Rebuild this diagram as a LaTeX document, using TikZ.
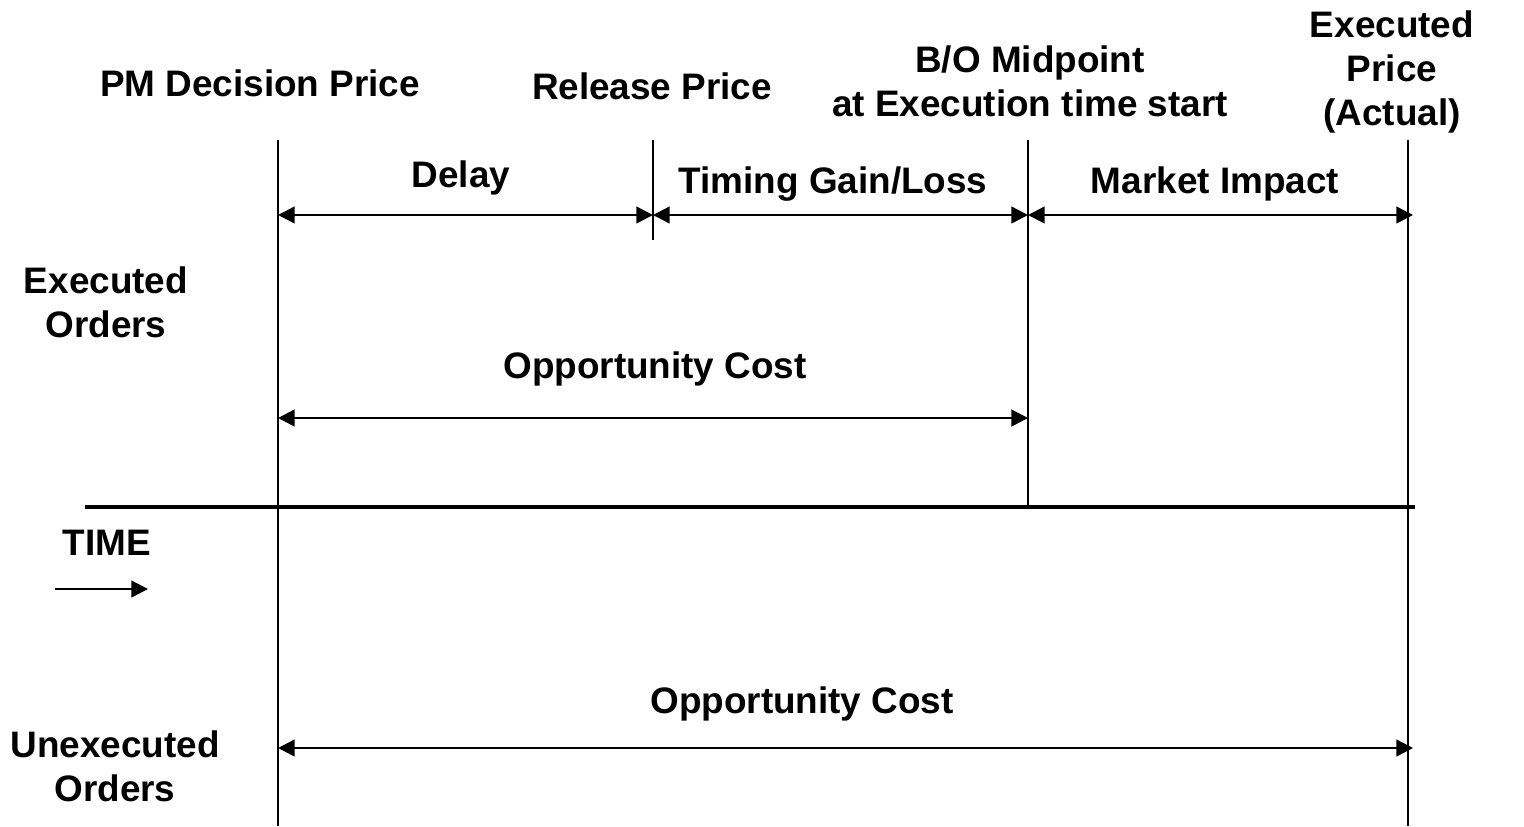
\documentclass[tikz,border=0pt]{standalone}
\usepackage{fontspec}
\setmainfont{Liberation Sans}
\usetikzlibrary{arrows.meta}
\tikzstyle{label}=[font=\bfseries\fontsize{21}{25}\selectfont, align=center, inner sep=0pt]
\tikzstyle{tick}=[line width=1.4pt]
\tikzstyle{span}=[line width=1.4pt, {Triangle[length=9.5pt,width=9.5pt]}-{Triangle[length=9.5pt,width=9.5pt]}]

\begin{document}
\begin{tikzpicture}[x=0.02cm, y=-0.02cm]
\useasboundingbox (0,0) rectangle (1524,826);

% ticks on the time line
\coordinate (pm_top) at (278,140);
\coordinate (pm_bot) at (278,826);
\coordinate (rel_top) at (653,140);
\coordinate (rel_bot) at (653,240);
\coordinate (bo_top) at (1028,140);
\coordinate (bo_bot) at (1028,505);
\coordinate (ex_top) at (1408,140);
\coordinate (ex_bot) at (1408,826);
\coordinate (time_l) at (85,507);
\coordinate (time_r) at (1415,507);

\draw[tick] (pm_top)--(pm_bot);
\draw[tick] (rel_top)--(rel_bot);
\draw[tick] (bo_top)--(bo_bot);
\draw[tick] (ex_top)--(ex_bot);
\draw[line width=2.8pt] (time_l)--(time_r);

\node[label] (pm) at (260,83) {PM Decision Price};
\node[label] (rel) at (652,86) {Release Price};
\node[label] (bo) at (1030,81) {B/O Midpoint\\at Execution time start};
\node[label] (ex) at (1392,72) {Executed\\Price\\(Actual)};

\node[label] (delay) at (461,178) {Delay};
\node[label] (timing) at (833,184) {Timing Gain/Loss};
\node[label] (impact) at (1215,184) {Market Impact};
\node[label] (opp1) at (655,369) {Opportunity Cost};
\node[label] (opp2) at (802,704) {Opportunity Cost};

\node[label] (exord) at (106,302) {Executed\\Orders};
\node[label] (unord) at (115,766) {Unexecuted\\Orders};
\node[label] (time) at (107,543) {TIME};

% spans
\coordinate (d_l) at (278,215);
\coordinate (d_m) at (653,215);
\coordinate (d_r) at (1028,215);
\coordinate (d_e) at (1413,215);
\coordinate (o_l) at (278,418);
\coordinate (o_r) at (1028,418);
\coordinate (u_l) at (278,748);
\coordinate (u_r) at (1413,748);
\draw[span] (d_l)--(d_m);
\draw[span] (d_m)--(d_r);
\draw[span] (d_r)--(d_e);
\draw[span] (o_l)--(o_r);
\draw[span] (u_l)--(u_r);

\coordinate (t_a) at (55,589);
\coordinate (t_b) at (148,589);
\draw[line width=1.4pt, -{Triangle[length=9.5pt,width=9.5pt]}] (t_a)--(t_b);
\end{tikzpicture}
\end{document}
